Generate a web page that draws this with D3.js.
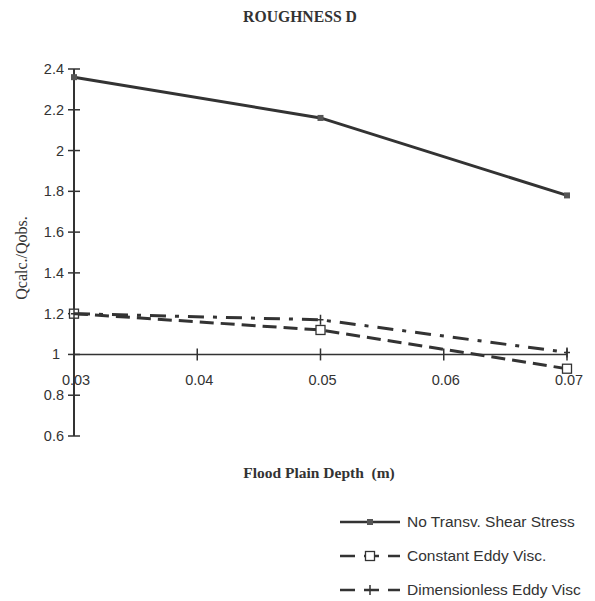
<!DOCTYPE html>
<html>
<head>
<script src="https://d3js.org/d3.v7.min.js"></script>
<style>
  body { margin: 0; background: #fff; }
  text { fill: #333; white-space: pre; }
</style>
</head>
<body>
<script>
// flood plain depth (m)
var depths = [0.03, 0.05, 0.07];
// Qcalc./Qobs. for each method
var noShear = [2.36, 2.16, 1.78];
var constEddy = [1.20, 1.12, 0.93];
var dimlessEddy = [1.20, 1.17, 1.01];

var seriesNames = ["No Transv. Shear Stress", "Constant Eddy Visc.", "Dimensionless Eddy Visc"];
var xTicks = [0.03, 0.04, 0.05, 0.06, 0.07];
var yTicks = [0.6, 0.8, 1, 1.2, 1.4, 1.6, 1.8, 2, 2.2, 2.4];

var svg = d3.select("body").append("svg")
    .attr("width", 595).attr("height", 601);

var x = d3.scaleLinear().domain([0.03, 0.07]).range([74, 567]);
var y = d3.scaleLinear().domain([0.6, 2.4]).range([436, 69]);

var ink = "#333";
var sans = "Liberation Sans, Arial, sans-serif";
var serif = "Liberation Serif, Times New Roman, serif";

// y axis, ticks cross the line
svg.append("line")
    .attr("x1", x(0.03)).attr("x2", x(0.03))
    .attr("y1", y(0.6)).attr("y2", y(2.4))
    .attr("stroke", ink).attr("stroke-width", 2);
yTicks.forEach(function (t) {
  svg.append("line")
      .attr("x1", x(0.03) - 6).attr("x2", x(0.03) + 6)
      .attr("y1", y(t)).attr("y2", y(t))
      .attr("stroke", ink).attr("stroke-width", 1.5);
  svg.append("text")
      .attr("x", t === 1 ? x(0.03) - 14 : x(0.03) - 10)
      .attr("y", y(t) + 5)
      .attr("text-anchor", "end")
      .style("font-family", sans)
      .style("font-size", "14.5px")
      .text(d3.format("")(t));
});

// x axis sits at y = 1
svg.append("line")
    .attr("x1", x(0.03)).attr("x2", x(0.07))
    .attr("y1", y(1)).attr("y2", y(1))
    .attr("stroke", ink).attr("stroke-width", 1.5);
xTicks.forEach(function (t) {
  svg.append("line")
      .attr("x1", x(t)).attr("x2", x(t))
      .attr("y1", y(1) - 6).attr("y2", y(1) + 6)
      .attr("stroke", ink).attr("stroke-width", 1.5);
  svg.append("text")
      .attr("x", x(t) + 2).attr("y", y(1) + 31)
      .attr("text-anchor", "middle")
      .style("font-family", sans)
      .style("font-size", "14.5px")
      .text(d3.format(".2f")(t));
});

var line = d3.line()
    .x(function (d) { return x(d[0]); })
    .y(function (d) { return y(d[1]); });

var series = [
  { name: seriesNames[0], values: noShear, dash: null, marker: "filled" },
  { name: seriesNames[1], values: constEddy, dash: "14,7", marker: "open" },
  { name: seriesNames[2], values: dimlessEddy, dash: "16,9,4,9", marker: "cross" }
];

function drawMarker(g, type, cx, cy) {
  if (type === "filled") {
    g.append("rect").attr("x", cx - 3).attr("y", cy - 3)
        .attr("width", 6).attr("height", 6).attr("fill", "#555");
  } else if (type === "open") {
    g.append("rect").attr("x", cx - 4.5).attr("y", cy - 4.5)
        .attr("width", 9).attr("height", 9)
        .attr("fill", "#fff").attr("stroke", ink).attr("stroke-width", 1.3);
  } else {
    g.append("path")
        .attr("d", "M" + (cx - 3) + "," + cy + "L" + (cx + 3) + "," + cy +
                   "M" + cx + "," + (cy - 5) + "L" + cx + "," + (cy + 5))
        .attr("stroke", ink).attr("stroke-width", 1.5);
  }
}

series.forEach(function (s) {
  var pts = depths.map(function (d, i) { return [d, s.values[i]]; });
  svg.append("path")
      .datum(pts)
      .attr("d", line)
      .attr("fill", "none")
      .attr("stroke", ink)
      .attr("stroke-width", 3)
      .attr("stroke-dasharray", s.dash);
  var g = svg.append("g");
  pts.forEach(function (p) { drawMarker(g, s.marker, x(p[0]), y(p[1])); });
});

// titles
svg.append("text")
    .attr("x", 300).attr("y", 22)
    .attr("text-anchor", "middle")
    .style("font-family", serif)
    .style("font-weight", "bold")
    .style("font-size", "15.7px")
    .text("ROUGHNESS D");

svg.append("text")
    .attr("x", 319).attr("y", 478)
    .attr("text-anchor", "middle")
    .style("font-family", serif)
    .style("font-weight", "bold")
    .style("font-size", "15.5px")
    .text("Flood Plain Depth  (m)");

svg.append("text")
    .attr("transform", "translate(27,258) rotate(-90)")
    .attr("text-anchor", "middle")
    .style("font-family", serif)
    .style("font-size", "16px")
    .text("Qcalc./Qobs.");

// legend
var legendY = [522, 556, 590];
series.forEach(function (s, i) {
  var ly = legendY[i];
  svg.append("line")
      .attr("x1", 340).attr("x2", 400)
      .attr("y1", ly).attr("y2", ly)
      .attr("stroke", ink).attr("stroke-width", 2.5)
      .attr("stroke-dasharray", s.dash ? "15,9" : null);
  drawMarker(svg.append("g"), s.marker, 370, ly);
  svg.append("text")
      .attr("x", 407).attr("y", ly + 5)
      .style("font-family", sans)
      .style("font-size", "15.5px")
      .text(s.name);
});
</script>
</body>
</html>
